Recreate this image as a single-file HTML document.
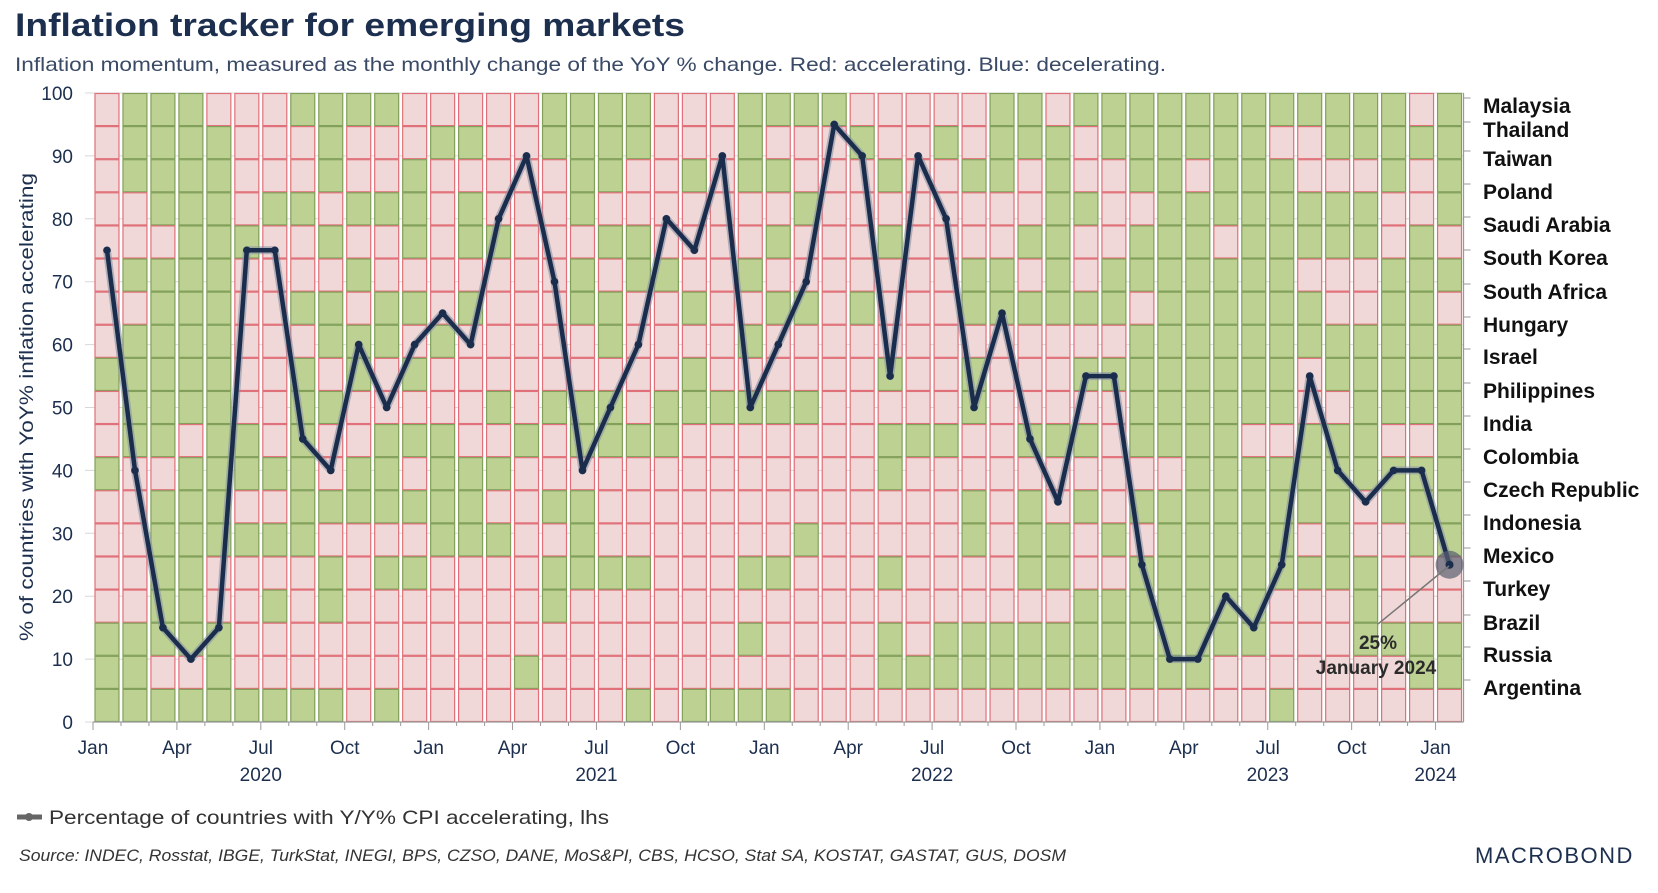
<!DOCTYPE html>
<html><head><meta charset="utf-8">
<style>
html,body{margin:0;padding:0;background:#fff;}
body{width:1658px;height:888px;overflow:hidden;font-family:"Liberation Sans",sans-serif;}
svg text{font-family:"Liberation Sans",sans-serif;}
</style></head><body>
<svg id="s" width="1658" height="888" viewBox="0 0 1658 888" xmlns="http://www.w3.org/2000/svg">
<text x="15" y="36" font-size="32" font-weight="bold" fill="#1d2f4e" textLength="670" lengthAdjust="spacingAndGlyphs">Inflation tracker for emerging markets</text>
<text x="15" y="71" font-size="19.5" fill="#3a4a66" textLength="1151" lengthAdjust="spacingAndGlyphs">Inflation momentum, measured as the monthly change of the YoY % change. Red: accelerating. Blue: decelerating.</text>
<g id="grid"></g>
<g id="cells"></g>
<g id="axis" font-size="19" fill="#1d2f4e"></g>
<text transform="translate(33,407) rotate(-90)" text-anchor="middle" font-size="19" fill="#1d2f4e" textLength="468" lengthAdjust="spacingAndGlyphs">% of countries with YoY% inflation accelerating</text>
<g id="rl" font-size="21" font-weight="bold" fill="#111"></g>
<g id="line"></g>
<line x1="1449" y1="566" x2="1378" y2="624" stroke="#777" stroke-width="1.5"/>
<text x="1378" y="649" text-anchor="middle" font-size="19" font-weight="bold" fill="#2b2b2b">25%</text>
<text x="1376" y="674" text-anchor="middle" font-size="19" font-weight="bold" fill="#2b2b2b">January 2024</text>
<line x1="17" y1="817" x2="42" y2="817" stroke="#666" stroke-width="5"/>
<circle cx="29" cy="817" r="4" fill="#666"/>
<text x="49" y="824" font-size="19.5" fill="#333" textLength="560" lengthAdjust="spacingAndGlyphs">Percentage of countries with Y/Y% CPI accelerating, lhs</text>
<text x="19" y="861" font-size="16.5" font-style="italic" fill="#333" textLength="1047" lengthAdjust="spacingAndGlyphs">Source: INDEC, Rosstat, IBGE, TurkStat, INEGI, BPS, CZSO, DANE, MoS&amp;PI, CBS, HCSO, Stat SA, KOSTAT, GASTAT, GUS, DOSM</text>
<text x="1475" y="863" font-size="22" fill="#1d2f4e" letter-spacing="1.5">MACROBOND</text>
</svg>
<script>
var NS="http://www.w3.org/2000/svg";
function el(p,t,a,txt){var e=document.createElementNS(NS,t);for(var k in a)e.setAttribute(k,a[k]);if(txt!==undefined)e.textContent=txt;p.appendChild(e);return e;}
var X0=93,PW=27.97,Y0=93,Y1=722,RH=(Y1-Y0)/19;
function yv(v){return Y1-(Y1-Y0)*v/100;}
var cols=[
"RRRRRRRRGRRGRRRRGGG","GGGRRGRGGGGRRRRRGGG","GGGGRGGGGGGRGGGGGRG","GGGGGGGGGGRGGGGGGRG","RGGGGGGGGGGGGGRRGGG",
"RRRRGRRRRRGGRGRRRRG","RRRGRRRRRRRGRGRGRRG","GRRGRRGRGGGGGGRRRRG","GGGRGRGGRGRRGRGGRRG","GRRGRGRGGRRGGRRRRRR",
"GRRGRRGGRRGGGRGRRRG","RRGGGRGRGRGRGRGRRRR","RGRRRRRGRRGGGGRRRRR","RGRGGRGRRRRGGGRRRRR","RRRRGRRRRGRGRGRRRRR",
"RRRRRRRRRRGRRRRRRGR","GGRRRRRRRGRRGRGGRRR","GGGGRGGRRGGRGGGRRRR","GGGRGRGGRGGRRRGRRRR","GGRRGGRRRRGRRRGRRRG",
"RRRRRGRRRGGRRRRRRRR","RRGRRRGRGGRRRRRRRRG","RRRRRRRRRGRRRRRRRRG","GGGRRGRGRGRRRRGRGRG","GRGRGRGRRGRRRRGRRRG",
"GRRGRRGRRGRRRGRRRRR","GRRRRRRRRRRRRRRRRRR","RGRRRRGRRRRRRRRRRRR","RRGRGRRRGRGGRRGRGGR","RRRRRRRRRRGRRRRRRGR",
"RGRRRRRRRRGRRRRRGGR","RRGRRGGRGGRRGGRRGGR","GGGRRGGRRRRRRRRRGGR","GGRRGRGRRRGRGGGRGGR","RGGGGGGRRRGRRGGRGGR",
"GRRGRRGRGRGRGRRGGGR","GGRRRGGRGRRRRGRGGGR","GGGRGGRGGGGRGRGGGGR"];
var reds=[[11,18],[2,18],[4,17,18],[10,17,18],[1,10,15,16,17],[1,2,5,8,9,13,15,16,17,18],[2,5,6,9,15,16,17,18],[2,5,6,12,13,17,18],[3,4,10,13,14,15,17,18],[0,2,3,10,14,15,18],[4,6,14,15,18]];
reds.forEach(function(r){var s="";for(var i=0;i<19;i++)s+=(r.indexOf(i)>=0?"R":"G");cols.push(s);});
var g=document.getElementById("grid");
for(var v=0;v<=100;v+=10){el(g,"line",{x1:X0-8,x2:X0+49*PW,y1:yv(v),y2:yv(v),stroke:"#d8d8d8","stroke-width":1});}
var c=document.getElementById("cells");
for(var i=0;i<cols.length;i++){for(var r=0;r<19;r++){var red=cols[i][r]=="R";
el(c,"rect",{x:X0+i*PW+2,y:Y0+r*RH+0.5,width:PW-4,height:RH-1,fill:red?"#f0d8d8":"#bcd192",stroke:red?"#e07079":"#82a05a","stroke-width":1.2});}}
var a=document.getElementById("axis");
el(a,"line",{x1:X0,x2:X0+49*PW,y1:Y1,y2:Y1,stroke:"#999","stroke-width":1.2});
el(a,"line",{x1:X0+49*PW,x2:X0+49*PW,y1:Y0,y2:Y1,stroke:"#999","stroke-width":1.2});
for(var v=0;v<=100;v+=10){el(a,"text",{x:73,y:yv(v)+7,"text-anchor":"end"},String(v));}
var mn=["Jan","Apr","Jul","Oct"];
for(var m=0;m<=48;m++){var x=X0+m*PW;var q=m%3==0;
el(a,"line",{x1:x,x2:x,y1:Y1,y2:Y1+(q?8:4),stroke:"#999","stroke-width":1});
if(q){el(a,"text",{x:x,y:754,"text-anchor":"middle"},mn[(m%12)/3]);}
if(m%12==6){el(a,"text",{x:x,y:781,"text-anchor":"middle"},String(2020+(m-6)/12));}}
el(a,"text",{x:X0+48*PW,y:781,"text-anchor":"middle"},"2024");
var names=[["Malaysia",106],["Thailand",130],["Taiwan",159],["Poland",192],["Saudi Arabia",225],["South Korea",258],["South Africa",292],["Hungary",325],["Israel",357],["Philippines",391],["India",424],["Colombia",457],["Czech Republic",490],["Indonesia",523],["Mexico",556],["Turkey",589],["Brazil",623],["Russia",655],["Argentina",688]];
var rl=document.getElementById("rl");
names.forEach(function(n){el(rl,"text",{x:1483,y:n[1]+7},n[0]);el(a,"line",{x1:X0+49*PW,x2:X0+49*PW+7,y1:n[1]-8,y2:n[1]-8,stroke:"#999"});});
var vals=[75,40,15,10,15,75,75,45,40,60,50,60,65,60,80,90,70,40,50,60,80,75,90,50,60,70,95,90,55,90,80,50,65,45,35,55,55,25,10,10,20,15,25,55,40,35,40,40,25];
var pts=vals.map(function(v,i){return (X0+i*PW+PW/2).toFixed(1)+","+yv(v).toFixed(1);}).join(" ");
var L=document.getElementById("line");
el(L,"polyline",{points:pts,fill:"none",stroke:"#8a93a3","stroke-width":8,"stroke-linejoin":"round","stroke-opacity":0.6});
el(L,"polyline",{points:pts,fill:"none",stroke:"#1b2d4d","stroke-width":4.5,"stroke-linejoin":"round"});
vals.forEach(function(v,i){el(L,"circle",{cx:X0+i*PW+PW/2,cy:yv(v),r:3.8,fill:"#1b2d4d"});});
el(L,"circle",{cx:X0+48*PW+PW/2,cy:yv(25),r:14,fill:"#5a6070","fill-opacity":0.7});
el(L,"circle",{cx:X0+48*PW+PW/2,cy:yv(25),r:4,fill:"#1b2d4d"});
</script>
</body></html>
